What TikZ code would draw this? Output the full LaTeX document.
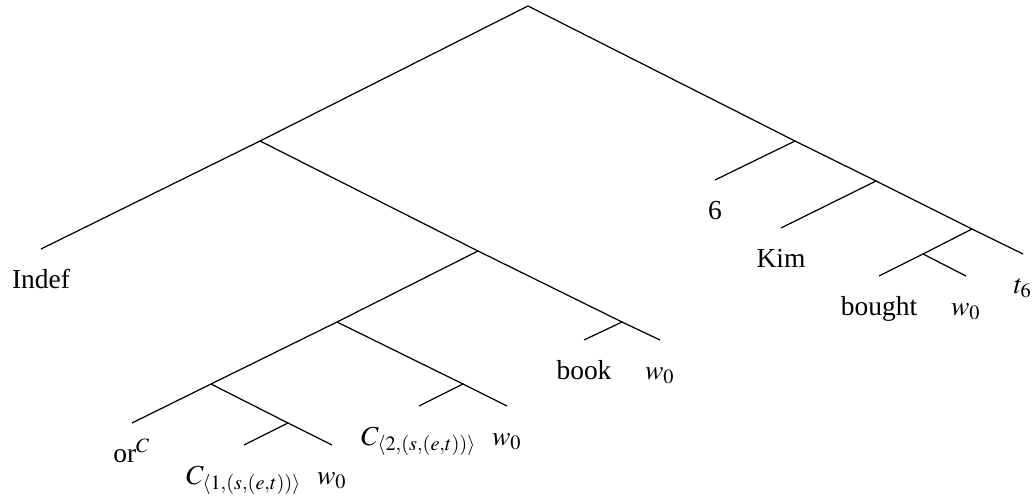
\documentclass[tikz,border=0pt]{standalone}
\usepackage{mathptmx}
\usepackage{fontspec}
\setmainfont{Liberation Serif}

\begin{document}
\begin{tikzpicture}[x=0.364pt,y=-0.364pt,line width=0.45pt,
  word/.style={anchor=base,inner sep=0pt,yshift=-14.2pt}]
\useasboundingbox (0,0) rectangle (1034,500);
% branching points
\coordinate (root) at (528,6);
\coordinate (a) at (260,141);
\coordinate (b) at (478,251);
\coordinate (c) at (622,322);
\coordinate (d) at (337,322);
\coordinate (e) at (211,384);
\coordinate (f) at (288,423);
\coordinate (g) at (463,384);
\coordinate (n1) at (795,141);
\coordinate (n2) at (876,181);
\coordinate (n3) at (972,229);
\coordinate (n4) at (923,254);
% leaf ends
\coordinate (lindef) at (41,249);
\coordinate (lbook) at (584,340);
\coordinate (lbookw) at (660,340);
\coordinate (lor) at (132,423);
\coordinate (lcone) at (244,445);
\coordinate (lconew) at (332,445);
\coordinate (lctwo) at (419,406);
\coordinate (lctwow) at (507,406);
\coordinate (lsix) at (715,180);
\coordinate (lkim) at (781,228);
\coordinate (lbought) at (879,276);
\coordinate (lboughtw) at (966,276);
\coordinate (lt) at (1023,254);
% left subtree
\draw (root) -- (a) -- (lindef);
\draw (a) -- (b) -- (d) -- (e) -- (lor);
\draw (b) -- (c) -- (lbook);
\draw (c) -- (lbookw);
\draw (e) -- (f) -- (lcone);
\draw (f) -- (lconew);
\draw (d) -- (g) -- (lctwo);
\draw (g) -- (lctwow);
% right subtree
\draw (root) -- (n1) -- (lsix);
\draw (n1) -- (n2) -- (lkim);
\draw (n2) -- (n3) -- (lt);
\draw (n3) -- (n4) -- (lbought);
\draw (n4) -- (lboughtw);
% words
\node[word] (windef) at (lindef) {Indef};
\node[word] (wbook) at (lbook) {book};
\node[word] (wbookw) at (lbookw) {$w_0$};
\node[word] (wor) at (lor) {or$^C$};
\node[word] (wcone) at (lcone) {$C_{\langle 1,(s,(e,t))\rangle}$};
\node[word] (wconew) at (lconew) {$w_0$};
\node[word] (wctwo) at (lctwo) {$C_{\langle 2,(s,(e,t))\rangle}$};
\node[word] (wctwow) at (lctwow) {$w_0$};
\node[word] (wsix) at (lsix) {6};
\node[word] (wkim) at (lkim) {Kim};
\node[word] (wbought) at (lbought) {bought};
\node[word] (wboughtw) at (lboughtw) {$w_0$};
\node[word] (wt) at (lt) {$t_6$};
\end{tikzpicture}
\end{document}
